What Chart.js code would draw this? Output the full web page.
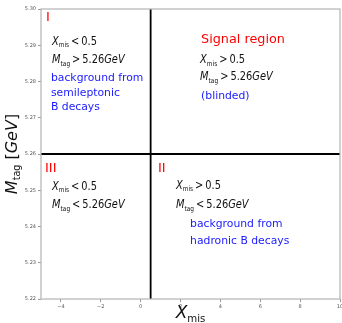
<!DOCTYPE html>
<html>
<head>
<meta charset="utf-8">
<script src="https://cdn.jsdelivr.net/npm/chart.js@4/dist/chart.umd.min.js"></script>
<style>
  html, body { margin: 0; padding: 0; background: #fff; }
  #wrap { width: 342px; height: 323px; }
</style>
</head>
<body>
<div id="wrap"><canvas id="regions"></canvas></div>
<script>
// axis ranges and cuts
var xRange = [-5, 10];
var yRange = [5.22, 5.30];
var xCut = 0.5;
var yCut = 5.26;
var xTicks = [-4, -2, 0, 2, 4, 6, 8, 10];
var yTicks = [5.22, 5.23, 5.24, 5.25, 5.26, 5.27, 5.28, 5.29, 5.30];

// region names and text
var regionNames = ['I', 'II', 'III'];
var signalTitle = 'Signal region';
var textI = ['background from', 'semileptonic', 'B decays'];
var textSignal = ['(blinded)'];
var textII = ['background from', 'hadronic B decays'];

var RED = '#ff0000', BLUE = '#1a1aff', INK = '#111';
var FONT = '"DejaVu Sans", sans-serif';
var TH = '\u2009';
var MATH = 12; // math label size, drawn slightly narrowed

// rich text pieces: [text, kind]  kind: i = italic, r = roman, s = subscript
function xmis(op) { return [['X', 'i'], ['mis', 's'], [TH + op + TH + '0.5', 'r']]; }
function mtag(op) { return [['M', 'i'], ['tag', 's'], [TH + op + TH + '5.26', 'r'], ['GeV', 'i']]; }

var notes = [
    { x: -4.75, y: 5.2975, text: regionNames[0], color: RED, size: 13 },
    { x: -4.45, y: 5.2909, rich: xmis('<'), size: MATH },
    { x: -4.45, y: 5.2859, rich: mtag('>'), size: MATH },
    { x: -4.5, y: 5.2810, text: textI[0], color: BLUE, size: 10.8 },
    { x: -4.5, y: 5.2768, text: textI[1], color: BLUE, size: 10.8 },
    { x: -4.5, y: 5.2730, text: textI[2], color: BLUE, size: 10.8 },

    { x: 3.03, y: 5.2914, text: signalTitle, color: RED, size: 12.8 },
    { x: 2.98, y: 5.2859, rich: xmis('>'), size: MATH },
    { x: 2.98, y: 5.2812, rich: mtag('>'), size: MATH },
    { x: 3.03, y: 5.2760, text: textSignal[0], color: BLUE, size: 10.8 },

    { x: -4.8, y: 5.2561, text: regionNames[2], color: RED, size: 13 },
    { x: -4.45, y: 5.2509, rich: xmis('<'), size: MATH },
    { x: -4.45, y: 5.2459, rich: mtag('<'), size: MATH },

    { x: 0.87, y: 5.2561, text: regionNames[1], color: RED, size: 13 },
    { x: 1.77, y: 5.2512, rich: xmis('>'), size: MATH },
    { x: 1.77, y: 5.2459, rich: mtag('<'), size: MATH },
    { x: 2.48, y: 5.2407, text: textII[0], color: BLUE, size: 10.8 },
    { x: 2.48, y: 5.2360, text: textII[1], color: BLUE, size: 10.8 }
];

function setFont(ctx, kind, size) {
    if (kind === 'i') ctx.font = 'italic ' + size + 'px ' + FONT;
    else if (kind === 's') ctx.font = (size * 0.6) + 'px ' + FONT;
    else ctx.font = size + 'px ' + FONT;
}

function drawRich(ctx, pieces, x, y, size, color, squeeze) {
    var k = squeeze || 1;
    ctx.save();
    ctx.translate(x, y);
    ctx.scale(k, 1);
    ctx.fillStyle = color || INK;
    ctx.textBaseline = 'middle';
    ctx.textAlign = 'left';
    var cx = 0;
    pieces.forEach(function (p) {
        setFont(ctx, p[1], size);
        var dy = p[1] === 's' ? size * 0.3 : 0;
        ctx.fillText(p[0], cx, dy);
        cx += ctx.measureText(p[0]).width;
    });
    ctx.restore();
    return cx * k;
}

function measureRich(ctx, pieces, size) {
    var w = 0;
    pieces.forEach(function (p) {
        setFont(ctx, p[1], size);
        w += ctx.measureText(p[0]).width;
    });
    return w;
}

var notesPlugin = {
    id: 'notes',
    afterDraw: function (chart) {
        var ctx = chart.ctx, a = chart.chartArea;
        var xs = chart.scales.x, ys = chart.scales.y;
        ctx.save();

        // frame
        ctx.strokeStyle = '#b3b3b3';
        ctx.lineWidth = 1.2;
        ctx.strokeRect(a.left, a.top, a.right - a.left, a.bottom - a.top);

        notes.forEach(function (n) {
            var px = xs.getPixelForValue(n.x), py = ys.getPixelForValue(n.y);
            if (n.rich) {
                drawRich(ctx, n.rich, px, py, n.size, n.color, 0.82);
            } else {
                ctx.fillStyle = n.color;
                ctx.font = n.size + 'px ' + FONT;
                ctx.textBaseline = 'middle';
                ctx.textAlign = 'left';
                ctx.fillText(n.text, px, py);
            }
        });

        // axis titles
        var xt = [['X', 'i'], ['mis', 's']];
        var w = measureRich(ctx, xt, 17);
        drawRich(ctx, xt, (a.left + a.right) / 2 - w / 2, 314, 17, INK);

        var yt = [['M', 'i'], ['tag', 's'], [' [', 'r'], ['GeV', 'i'], [']', 'r']];
        ctx.translate(13, (a.top + a.bottom) / 2);
        ctx.rotate(-Math.PI / 2);
        w = measureRich(ctx, yt, 16);
        drawRich(ctx, yt, -w / 2, 0, 16, INK);
        ctx.restore();
    }
};

var ctx = document.getElementById('regions').getContext('2d');

new Chart(ctx, {
    type: 'scatter',
    data: {
        datasets: [{
            label: 'Xcut',
            data: [{ x: xCut, y: yRange[0] }, { x: xCut, y: yRange[1] }],
            showLine: true,
            borderColor: '#000',
            borderWidth: 1.8,
            pointRadius: 0
        }, {
            label: 'Mcut',
            data: [{ x: xRange[0], y: yCut }, { x: xRange[1], y: yCut }],
            showLine: true,
            borderColor: '#000',
            borderWidth: 1.8,
            pointRadius: 0
        }]
    },
    options: {
        responsive: true,
        maintainAspectRatio: false,
        animation: false,
        layout: { padding: { left: 0, top: 9, right: 2, bottom: 0 } },
        plugins: {
            legend: { display: false },
            tooltip: { enabled: false },
            title: { display: false }
        },
        scales: {
            x: {
                type: 'linear',
                min: xRange[0],
                max: xRange[1],
                afterBuildTicks: function (s) { s.ticks = xTicks.map(function (v) { return { value: v }; }); },
                afterFit: function (s) { s.height = 24; s.paddingRight = 0; s.paddingLeft = 0; },
                grid: { drawOnChartArea: false, drawTicks: true, tickLength: 3, color: '#999' },
                border: { display: false },
                ticks: {
                    color: '#555',
                    font: { size: 5, family: FONT },
                    padding: 2,
                    maxRotation: 0,
                    callback: function (v) { return v < 0 ? '\u2212' + Math.abs(v) : String(v); }
                }
            },
            y: {
                type: 'linear',
                min: yRange[0],
                max: yRange[1],
                afterBuildTicks: function (s) { s.ticks = yTicks.map(function (v) { return { value: v }; }); },
                afterFit: function (s) { s.width = 41; s.paddingTop = 0; s.paddingBottom = 0; },
                grid: { drawOnChartArea: false, drawTicks: true, tickLength: 3, color: '#999' },
                border: { display: false },
                ticks: {
                    color: '#555',
                    font: { size: 5, family: FONT },
                    padding: 2,
                    callback: function (v) { return Number(v).toFixed(2); }
                }
            }
        }
    },
    plugins: [notesPlugin]
});
</script>
</body>
</html>
